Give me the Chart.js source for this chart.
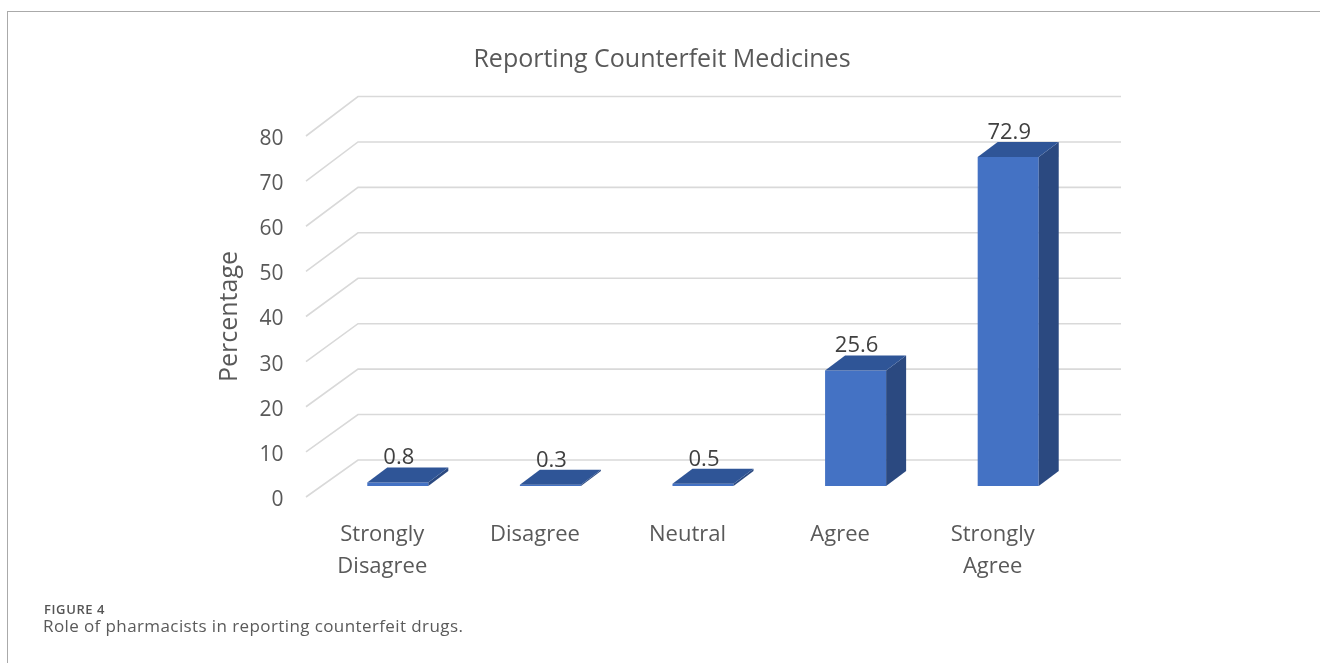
<!DOCTYPE html>
<html><head><meta charset="utf-8">
<script src="https://cdn.jsdelivr.net/npm/chart.js@4.4.1/dist/chart.umd.min.js"></script>
<style>
html,body{margin:0;padding:0;background:#fff;width:1320px;height:663px;overflow:hidden;}
#wrap{position:relative;width:1320px;height:663px;}
canvas{position:absolute;left:0;top:0;}
.frame{position:absolute;left:7px;top:11px;width:1400px;height:700px;border-left:1.5px solid #aaa;border-top:1.5px solid #aaa;}
.fig{position:absolute;left:44px;top:600px;font:600 13px 'Open Sans';color:#555;letter-spacing:0.6px;line-height:18px;}
.cap{position:absolute;left:43px;top:614px;font:17px 'Open Sans';color:#5a5a5a;letter-spacing:0.4px;line-height:23px;}
</style></head>
<body><div id="wrap"><div class="frame"></div><canvas id="c" width="1320" height="663"></canvas>
<div class="fig">FIGURE 4</div><div class="cap">Role of pharmacists in reporting counterfeit drugs.</div></div>
<script>
const categories = [['Strongly','Disagree'], 'Disagree', 'Neutral', 'Agree', ['Strongly','Agree']];
const percentages = [0.8, 0.3, 0.5, 25.6, 72.9];
const valueLabels = ['0.8', '0.3', '0.5', '25.6', '72.9'];
const yMin = 0, yMax = 80, yStep = 10;
const chartTitle = 'Reporting Counterfeit Medicines';
const yTitle = 'Percentage';

const FONT = "'Open Sans', sans-serif";
const TEXT = '#595959';
const FRONT = {dx: -15.5, dy: 11};
const BACK = {dx: 36.5, dy: -26};
const SIDE = {dx: 20, dy: -15};
const PERSP = 2.5;

const three = {
  id: 'three',
  beforeDatasetsDraw(chart) {
    const ctx = chart.ctx, y = chart.scales.y, a = chart.chartArea;
    ctx.save();
    ctx.strokeStyle = '#D9D9D9'; ctx.lineWidth = 1.6;
    y.ticks.forEach(t => {
      const v = t.value, py = y.getPixelForValue(v);
      const fx = a.left + FRONT.dx, fy = py + FRONT.dy;
      const bx = a.left + BACK.dx, by = py + BACK.dy - PERSP * (v / y.max);
      ctx.beginPath(); ctx.moveTo(fx, fy); ctx.lineTo(bx, by); ctx.lineTo(a.right + BACK.dx, by); ctx.stroke();
    });
    ctx.restore();
  },
  afterDatasetsDraw(chart) {
    const ctx = chart.ctx;
    const meta = chart.getDatasetMeta(0);
    ctx.save();
    meta.data.forEach((bar, i) => {
      const p = bar.getProps(['x', 'y', 'base', 'width'], true);
      const l = p.x - p.width / 2, r = p.x + p.width / 2;
      ctx.fillStyle = '#2B4980';
      ctx.beginPath(); ctx.moveTo(r, p.y); ctx.lineTo(r + SIDE.dx, p.y + SIDE.dy);
      ctx.lineTo(r + SIDE.dx, p.base + SIDE.dy); ctx.lineTo(r, p.base); ctx.closePath(); ctx.fill();
      ctx.fillStyle = '#2F5597';
      ctx.beginPath(); ctx.moveTo(l, p.y); ctx.lineTo(r, p.y);
      ctx.lineTo(r + SIDE.dx, p.y + SIDE.dy); ctx.lineTo(l + SIDE.dx, p.y + SIDE.dy); ctx.closePath(); ctx.fill();
      ctx.fillStyle = '#404040';
      ctx.font = "22px " + FONT;
      ctx.textAlign = 'center'; ctx.textBaseline = 'alphabetic';
      ctx.fillText(valueLabels[i], p.x + 1, p.y + SIDE.dy - 3);
    });
    ctx.restore();
  },
  afterDraw(chart) {
    const ctx = chart.ctx, y = chart.scales.y;
    const cy = (y.getPixelForValue(yMin) + y.getPixelForValue(yMax)) / 2 + FRONT.dy;
    ctx.save();
    ctx.translate(230, cy); ctx.rotate(-Math.PI / 2);
    ctx.fillStyle = TEXT; ctx.font = "25px " + FONT;
    ctx.textAlign = 'center'; ctx.textBaseline = 'middle';
    ctx.fillText(yTitle, 0, 0);
    ctx.restore();
  }
};

new Chart(document.getElementById('c'), {
  type: 'bar',
  data: {
    labels: categories,
    datasets: [{
      data: percentages,
      backgroundColor: '#4472C4',
      borderWidth: 0,
      categoryPercentage: 1,
      barPercentage: 0.4
    }]
  },
  options: {
    responsive: false, animation: false,
    layout: {padding: {left: 4, right: 0, top: 0, bottom: 0}},
    plugins: {
      legend: {display: false}, tooltip: {enabled: false},
      title: {display: true, text: chartTitle, color: TEXT,
        font: {family: FONT, size: 25, weight: 'normal', lineHeight: 1.2},
        padding: {top: 45, bottom: 50}}
    },
    scales: {
      x: {
        grid: {display: false, drawTicks: false}, border: {display: false},
        ticks: {color: TEXT, font: {family: FONT, size: 22, lineHeight: 1.45}, labelOffset: -15.5, padding: 33, maxRotation: 0, autoSkip: false},
        afterFit(s) { s.height = 177; }
      },
      y: {
        min: yMin, max: yMax,
        grid: {display: false, drawTicks: false}, border: {display: false},
        ticks: {stepSize: yStep, color: TEXT, font: {family: FONT, size: 21}, padding: 38, labelOffset: 14},
        afterFit(s) { s.width = 317.5; }
      },
      yR: {
        position: 'right', display: true,
        grid: {display: false, drawTicks: false}, border: {display: false},
        ticks: {display: false},
        afterFit(s) { s.width = 235.5; }
      }
    }
  },
  plugins: [three]
});
</script>
</body></html>
